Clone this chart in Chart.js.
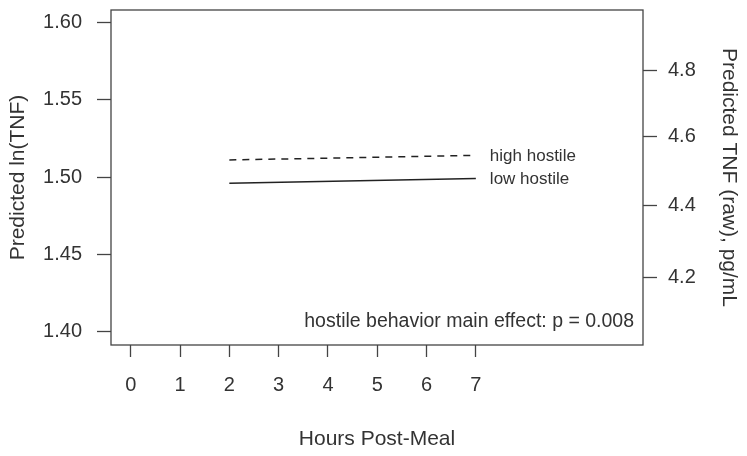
<!DOCTYPE html>
<html>
<head>
<meta charset="utf-8">
<script src="https://cdn.jsdelivr.net/npm/chart.js@4/dist/chart.umd.min.js"></script>
<style>
  html, body { margin: 0; padding: 0; background: #fff; }
</style>
</head>
<body>
<canvas id="myChart" width="747" height="456"></canvas>
<script>
// values
var hours = [2, 7];
var highHostile = [1.511, 1.514];
var lowHostile = [1.496, 1.499];
var xTicks = [0, 1, 2, 3, 4, 5, 6, 7];
var leftTicks = [1.40, 1.45, 1.50, 1.55, 1.60];
var rawTicks = [4.2, 4.4, 4.6, 4.8];
var seriesNames = ['high hostile', 'low hostile'];
var note = 'hostile behavior main effect: p = 0.008';

var yMin = 1.3916, yMax = 1.6078;
var ink = '#333';
var fontFam = '"Liberation Sans", Arial, sans-serif';

function points(ys) {
    return hours.map(function (h, i) { return { x: h, y: ys[i] }; });
}

var boxPlugin = {
    id: 'box',
    afterDraw: function (chart) {
        var ctx = chart.ctx;
        var a = chart.chartArea;
        ctx.save();
        ctx.strokeStyle = '#444';
        ctx.lineWidth = 1.3;
        ctx.strokeRect(a.left, a.top, a.right - a.left, a.bottom - a.top);

        // line labels at the end of each series
        ctx.fillStyle = ink;
        ctx.font = '17px ' + fontFam;
        ctx.textAlign = 'left';
        ctx.textBaseline = 'middle';
        chart.data.datasets.forEach(function (ds, i) {
            var meta = chart.getDatasetMeta(i);
            var last = meta.data[meta.data.length - 1];
            ctx.fillText(ds.label, last.x + 14, last.y + 0.5);
        });

        ctx.font = '19.5px ' + fontFam;
        ctx.textAlign = 'right';
        ctx.fillText(note, a.right - 9, a.bottom - 23);
        ctx.restore();
    }
};

function fixV(w) {
    return function (s) { s.width = w; s.paddingTop = 0; s.paddingBottom = 0; };
}

var ctx = document.getElementById('myChart').getContext('2d');
var myChart = new Chart(ctx, {
    type: 'line',
    data: {
        datasets: [{
            label: seriesNames[0],
            data: points(highHostile),
            borderColor: '#222',
            borderWidth: 1.5,
            borderDash: [7, 6],
            pointRadius: 0,
            fill: false
        }, {
            label: seriesNames[1],
            data: points(lowHostile),
            borderColor: '#222',
            borderWidth: 1.5,
            pointRadius: 0,
            fill: false
        }]
    },
    options: {
        responsive: false,
        animation: false,
        layout: { padding: { top: 10, left: 0, right: 0, bottom: 0 } },
        plugins: {
            legend: { display: false },
            tooltip: { enabled: false }
        },
        scales: {
            x: {
                type: 'linear',
                min: -0.4,
                max: 10.39,
                afterBuildTicks: function (s) { s.ticks = xTicks.map(function (v) { return { value: v }; }); },
                afterFit: function (s) { s.height = 111; s.paddingLeft = 0; s.paddingRight = 0; },
                border: { display: false },
                grid: { drawOnChartArea: false, drawTicks: true, tickLength: 12, color: '#444', tickWidth: 1.3 },
                ticks: { color: ink, font: { size: 20, family: fontFam }, padding: 16, maxRotation: 0 },
                title: { display: true, text: 'Hours Post-Meal', color: ink, font: { size: 21, family: fontFam }, padding: { top: 0, bottom: 4 } }
            },
            y: {
                position: 'left',
                min: yMin,
                max: yMax,
                afterBuildTicks: function (s) { s.ticks = leftTicks.map(function (v) { return { value: v }; }); },
                afterFit: fixV(111),
                border: { display: false },
                grid: { drawOnChartArea: false, drawTicks: true, tickLength: 14, color: '#444', tickWidth: 1.3 },
                ticks: { color: ink, font: { size: 20, family: fontFam }, padding: 15, callback: function (v) { return v.toFixed(2); } },
                title: { display: true, text: 'Predicted ln(TNF)', color: ink, font: { size: 21, family: fontFam }, padding: { top: 6, bottom: 0 } }
            },
            y2: {
                position: 'right',
                min: yMin,
                max: yMax,
                afterBuildTicks: function (s) { s.ticks = rawTicks.map(function (v) { return { value: Math.log(v) }; }); },
                afterFit: fixV(104),
                border: { display: false },
                grid: { drawOnChartArea: false, drawTicks: true, tickLength: 14, color: '#444', tickWidth: 1.3 },
                ticks: { color: ink, font: { size: 20, family: fontFam }, padding: 11, callback: function (v) { return Math.exp(v).toFixed(1); } },
                title: { display: true, text: 'Predicted TNF (raw), pg/mL', color: ink, font: { size: 21, family: fontFam }, padding: { top: 6, bottom: 0 } }
            }
        }
    },
    plugins: [boxPlugin]
});
</script>
</body>
</html>
